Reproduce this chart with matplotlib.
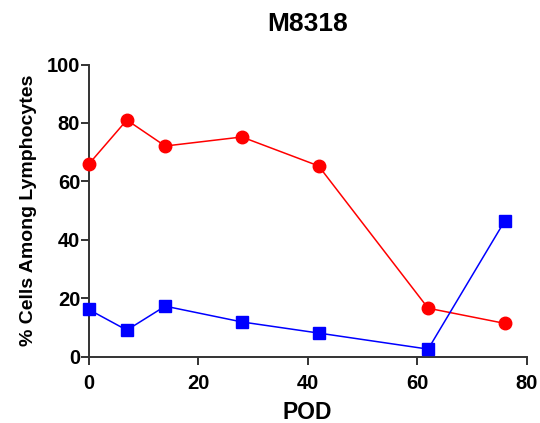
import matplotlib
matplotlib.use("Agg")
import matplotlib.pyplot as plt

# Data
pod = [0, 7, 14, 28, 42, 62, 76]
red_vals = [65.8, 81.0, 72.1, 75.2, 65.3, 16.6, 11.4]
blue_vals = [16.2, 9.1, 17.3, 11.9, 8.1, 2.6, 46.5]

plt.rcParams['font.family'] = ['Liberation Sans', 'DejaVu Sans']
plt.rcParams['font.weight'] = 'bold'

fig = plt.figure(figsize=(5.4, 4.23), dpi=100)
ax = fig.add_axes([0.1639, 0.1567, 0.9754 - 0.1639, 0.8475 - 0.1567])

ax.plot(pod, red_vals, color='#ff0000', marker='o', markersize=9, linewidth=1.1, clip_on=False, zorder=3)
ax.plot(pod, blue_vals, color='#0000ff', marker='s', markersize=8.5, linewidth=1.1, clip_on=False, zorder=3)

ax.set_xlim(0, 80)
ax.set_ylim(0, 100)
ax.set_xticks([0, 20, 40, 60, 80])
ax.set_yticks([0, 20, 40, 60, 80, 100])

# Prism style axes
for s in ['top', 'right']:
    ax.spines[s].set_visible(False)
for s in ['left', 'bottom']:
    ax.spines[s].set_color('#333333')
    ax.spines[s].set_linewidth(1.4)
ax.tick_params(axis='both', direction='out', length=5.5, width=1.4, color='#333333',
               labelsize=14.5)
ax.tick_params(axis='y', pad=0.5)
ax.tick_params(axis='x', pad=7)
for lab in ax.get_xticklabels() + ax.get_yticklabels():
    lab.set_fontweight('bold')

ax.set_xlabel('POD', fontsize=16.5, fontweight='bold', labelpad=6)
ax.set_ylabel('% Cells Among Lymphocytes', fontsize=14, fontweight='bold', labelpad=7)
ax.set_title('M8318', fontsize=19, fontweight='bold', pad=24)

fig.savefig('out.png', dpi=100)
